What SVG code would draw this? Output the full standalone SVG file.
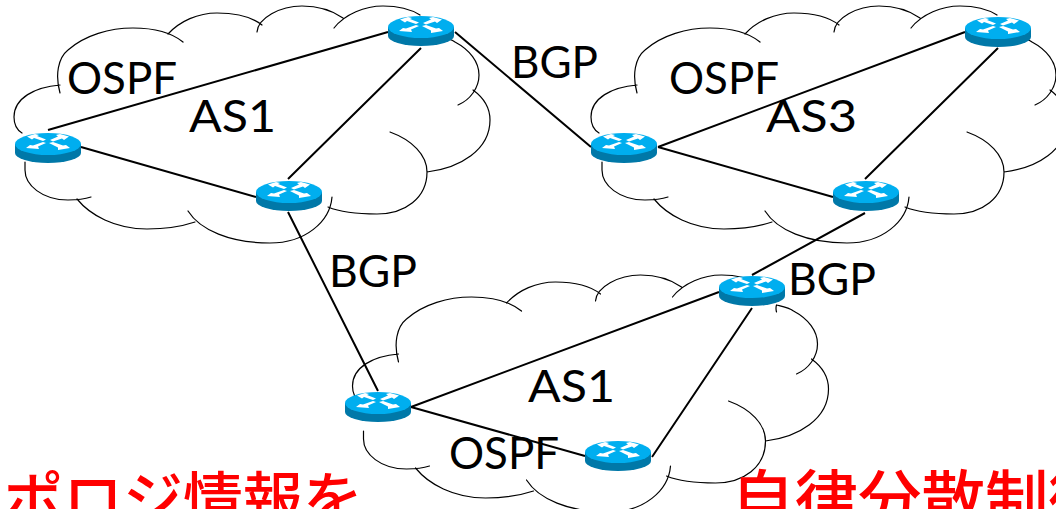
<svg xmlns="http://www.w3.org/2000/svg" width="1056" height="509" viewBox="0 0 1056 509">
<style>
.cl{fill:none;stroke:#000;stroke-width:1.2;stroke-linecap:round}
.ln{fill:none;stroke:#000;stroke-width:2}
.lb{font-family:"Lato","Open Sans",sans-serif;font-size:45px;fill:#000}
.rd{font-family:"Noto Sans CJK JP",sans-serif;font-weight:500;fill:#f00}
</style>
<defs>
<path id="cloud" class="cl" d="M60,85C35,87 14,98 14,117C14,124 17,130 22,133M60,93C55,75 58,58 68,50C85,35 110,28 133,28C155,28 172,33 183,42M168,34C180,21 198,13 217,13C235,13 252,17 262,25M257,32C258,18 280,6 302,6C320,6 333,11 343,18M334,28C345,14 365,6 383,6C398,6 412,10 420,15M438,43C437,39 438,36 438,36C442,37 450,38 455,42C470,50 479,62 479,75C479,88 470,100 458,105M473,90C484,98 490,108 490,120C490,150 460,168 427,172M390,132C412,140 427,155 427,172C427,198 405,214 377,214C358,214 340,212 328,207M332,197C330,222 305,243 270,243C230,243 200,230 188,211M195,222C180,227 165,229 147,229C115,229 90,215 77,199M91,197C85,199 75,200 68,200C42,200 25,185 25,170C25,167 25,165 25,162"/>
<g id="router">
<path d="M-33,-4V5A33,10 0 0 0 33,5V-4Z" fill="#0078a8"/>
<ellipse cx="0" cy="-4" rx="33" ry="11" fill="#00aeef"/>
<g fill="#fff">
<path d="M-21,-11.500L-13,-14L-9,-13L-11,-12L-2,-8.500L-5,-7L-14,-10L-16,-8.500Z"/>
<path d="M21,-11.500L12,-14L8,-13L10,-11.500L2,-8L5,-6.500L14,-9.500L16,-8Z"/>
<path d="M-22,0L-18,-3L-15,-2.500L-5,-6L-2,-5L-10,-1.500L-9,1Z"/>
<path d="M22,0L10,2L10,-0.500L1,-5L5,-6L15,-2.500L18,-3Z"/>
</g>
</g>
</defs>
<g id="clouds">
<use id="cloud-as1" href="#cloud"/>
<use id="cloud-as3" href="#cloud" x="577"/>
<use id="cloud-as1b" href="#cloud" x="338.500" y="269"/>
</g>
<g id="connectors" class="ln">
<path d="M48,130L388,32M81,147L256,197M421,48L288,179M455,32L591,147M288,212L378,391"/>
<path d="M658,147L965,32M658,147L833,197M998,48L865,179M865,213L752,275"/>
<path d="M411,407L719,292M411,407L585,456M752,308L652,457"/>
</g>
<g id="r1"><use href="#router" x="48" y="148"/></g>
<g id="r2"><use href="#router" x="421" y="31"/></g>
<g id="r3"><use href="#router" x="289" y="196"/></g>
<g id="r4"><use href="#router" x="624" y="148"/></g>
<g id="r5"><use href="#router" x="998" y="32"/></g>
<g id="r6"><use href="#router" x="866" y="196"/></g>
<g id="r7"><use href="#router" x="378" y="407"/></g>
<g id="r8"><use href="#router" x="752" y="291"/></g>
<g id="r9"><use href="#router" x="618" y="456"/></g>
<g id="labels">
<text class="lb" x="67" y="94" textLength="110" lengthAdjust="spacingAndGlyphs">OSPF</text>
<text class="lb" x="189" y="132" textLength="87" lengthAdjust="spacingAndGlyphs">AS1</text>
<text class="lb" x="511" y="78" textLength="87" lengthAdjust="spacingAndGlyphs">BGP</text>
<text class="lb" x="669" y="94" textLength="110" lengthAdjust="spacingAndGlyphs">OSPF</text>
<text class="lb" x="766" y="132" textLength="91" lengthAdjust="spacingAndGlyphs">AS3</text>
<text class="lb" x="329" y="287" textLength="88" lengthAdjust="spacingAndGlyphs">BGP</text>
<text class="lb" x="788" y="295" textLength="88" lengthAdjust="spacingAndGlyphs">BGP</text>
<text class="lb" x="528" y="402" textLength="87" lengthAdjust="spacingAndGlyphs">AS1</text>
<text class="lb" x="449" y="469" textLength="110" lengthAdjust="spacingAndGlyphs">OSPF</text>
<text class="rd" x="-57" y="522" font-size="60">トポロジ情報を</text>
<text class="rd" x="731" y="523" font-size="63.500">自律分散制御</text>
</g>
</svg>
